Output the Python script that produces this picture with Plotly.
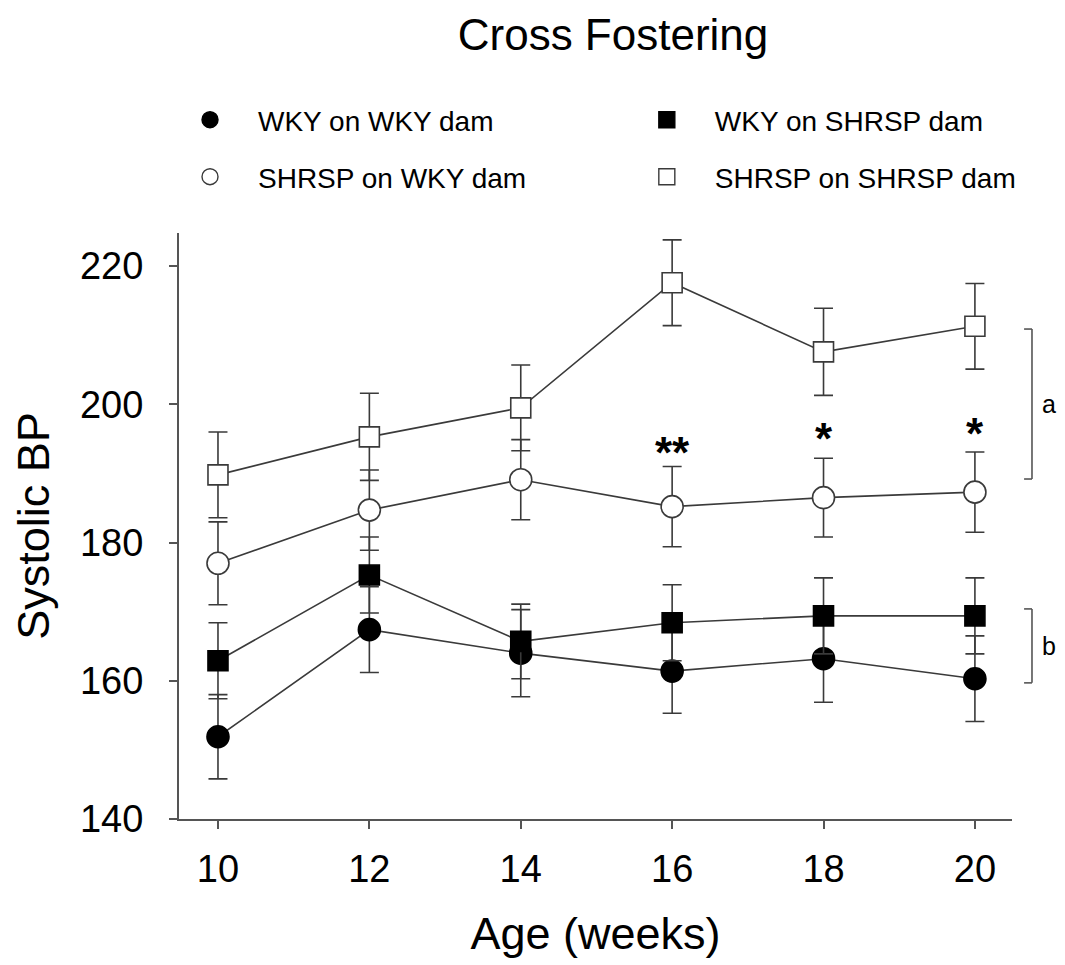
import plotly.graph_objects as go

weeks = [10, 12, 14, 16, 18, 20]

wky_on_wky = [151.9, 167.4, 164.0, 161.4, 163.2, 160.3]
wky_on_wky_se = [6.1, 6.2, 6.3, 6.1, 6.3, 6.2]

wky_on_shrsp = [162.9, 175.3, 165.7, 168.4, 169.4, 169.4]
wky_on_shrsp_se = [5.5, 5.5, 5.4, 5.5, 5.5, 5.5]

shrsp_on_wky = [177.0, 184.7, 189.1, 185.2, 186.5, 187.3]
shrsp_on_wky_se = [6.0, 5.8, 5.8, 5.8, 5.7, 5.8]

shrsp_on_shrsp = [189.8, 195.3, 199.5, 217.6, 207.6, 211.3]
shrsp_on_shrsp_se = [6.2, 6.3, 6.2, 6.2, 6.3, 6.2]

names = ["WKY on WKY dam", "WKY on SHRSP dam", "SHRSP on WKY dam", "SHRSP on SHRSP dam"]

star_weeks = [16, 18, 20]
star_labels = ["**", "*", "*"]
star_y = [193.1, 195.0, 195.8]

x_ticks = [10, 12, 14, 16, 18, 20]
y_ticks = [140, 160, 180, 200, 220]

FONT = "Liberation Sans, Arial, sans-serif"
LINE = "#3a3a3a"
AX = "#555555"

series = [
    (names[0], wky_on_wky, wky_on_wky_se, "circle", "black", "black", 22),
    (names[1], wky_on_shrsp, wky_on_shrsp_se, "square", "black", "black", 20),
    (names[2], shrsp_on_wky, shrsp_on_wky_se, "circle", "white", LINE, 22),
    (names[3], shrsp_on_shrsp, shrsp_on_shrsp_se, "square", "white", LINE, 20),
]

fig = go.Figure()
for name, vals, se, sym, fill, edge, size in series:
    fig.add_trace(go.Scatter(
        x=weeks, y=vals, mode="lines+markers", name=name, showlegend=False,
        line=dict(color=LINE, width=1.6),
        marker=dict(symbol=sym, size=size, color=fill, line=dict(color=edge, width=1.6)),
        error_y=dict(type="data", array=se, visible=True, color=LINE, thickness=1.6, width=9.5),
    ))

# legend-only entries: one legend per slot (2 columns x 2 rows)
legend_ids = ["legend", "legend3", "legend2", "legend4"]
for (name, vals, se, sym, fill, edge, size), lid in zip(series, legend_ids):
    fig.add_trace(go.Scatter(
        x=[None], y=[None], mode="markers", name=name, legend=lid,
        marker=dict(symbol=sym, size=18, color=fill, line=dict(color=edge, width=1.4)),
    ))

for wk, lab, yv in zip(star_weeks, star_labels, star_y):
    fig.add_annotation(x=wk, y=yv, text="<b>" + lab + "</b>", showarrow=False,
                       font=dict(family=FONT, size=44, color="black"),
                       xanchor="center", yanchor="middle")

# brackets a and b
brackets = [(210.9, 189.2, "a"), (170.4, 159.7, "b")]
for top, bot, lab in brackets:
    fig.add_shape(type="line", xref="paper", yref="y", x0=1.024, x1=1.024, y0=bot, y1=top,
                  line=dict(color=AX, width=1.6))
    for yy in (top, bot):
        fig.add_shape(type="line", xref="paper", yref="y", x0=1.0145, x1=1.024, y0=yy, y1=yy,
                      line=dict(color=AX, width=1.6))
    fig.add_annotation(xref="paper", yref="y", x=1.045, y=(top + bot) / 2, text=lab,
                       showarrow=False, font=dict(family=FONT, size=25, color="black"),
                       xanchor="center", yanchor="middle")

legend_common = dict(orientation="v", font=dict(family=FONT, size=28, color="black"),
                     itemwidth=86, bgcolor="rgba(0,0,0,0)", xanchor="left", yanchor="middle")

col1_x, col2_x = -0.0204, 0.528
row1_y, row2_y = 1.1928, 1.0956

fig.update_layout(
    width=1057, height=957,
    margin=dict(l=171, r=53, t=225, b=146, autoexpand=False),
    paper_bgcolor="white", plot_bgcolor="white",
    font=dict(family=FONT, color="black"),
    title=dict(text="Cross Fostering", x=0.5724, xanchor="center", y=0.9725, yanchor="middle",
               font=dict(family=FONT, size=44, color="black")),
    legend=dict(**legend_common, x=col1_x, y=row1_y),
    legend2=dict(**legend_common, x=col1_x, y=row2_y),
    legend3=dict(**legend_common, x=col2_x, y=row1_y),
    legend4=dict(**legend_common, x=col2_x, y=row2_y),
    xaxis=dict(range=[9.485, 20.49], tickvals=x_ticks, ticks="outside", ticklen=8, tickwidth=2,
               tickcolor=AX, showline=True, linecolor=AX, linewidth=2, showgrid=False, zeroline=False,
               tickfont=dict(family=FONT, size=38, color="black"), ticklabelstandoff=7,
               title=dict(text="Age (weeks)", font=dict(family=FONT, size=45, color="black"), standoff=29)),
    yaxis=dict(range=[140, 224.8], tickvals=y_ticks, ticks="outside", ticklen=8, tickwidth=2,
               tickcolor=AX, showline=True, linecolor=AX, linewidth=2, showgrid=False, zeroline=False,
               tickfont=dict(family=FONT, size=38, color="black"), ticklabelstandoff=18,
               title=dict(text="Systolic BP", font=dict(family=FONT, size=45, color="black"), standoff=24)),
)

fig.write_html("out.html")
